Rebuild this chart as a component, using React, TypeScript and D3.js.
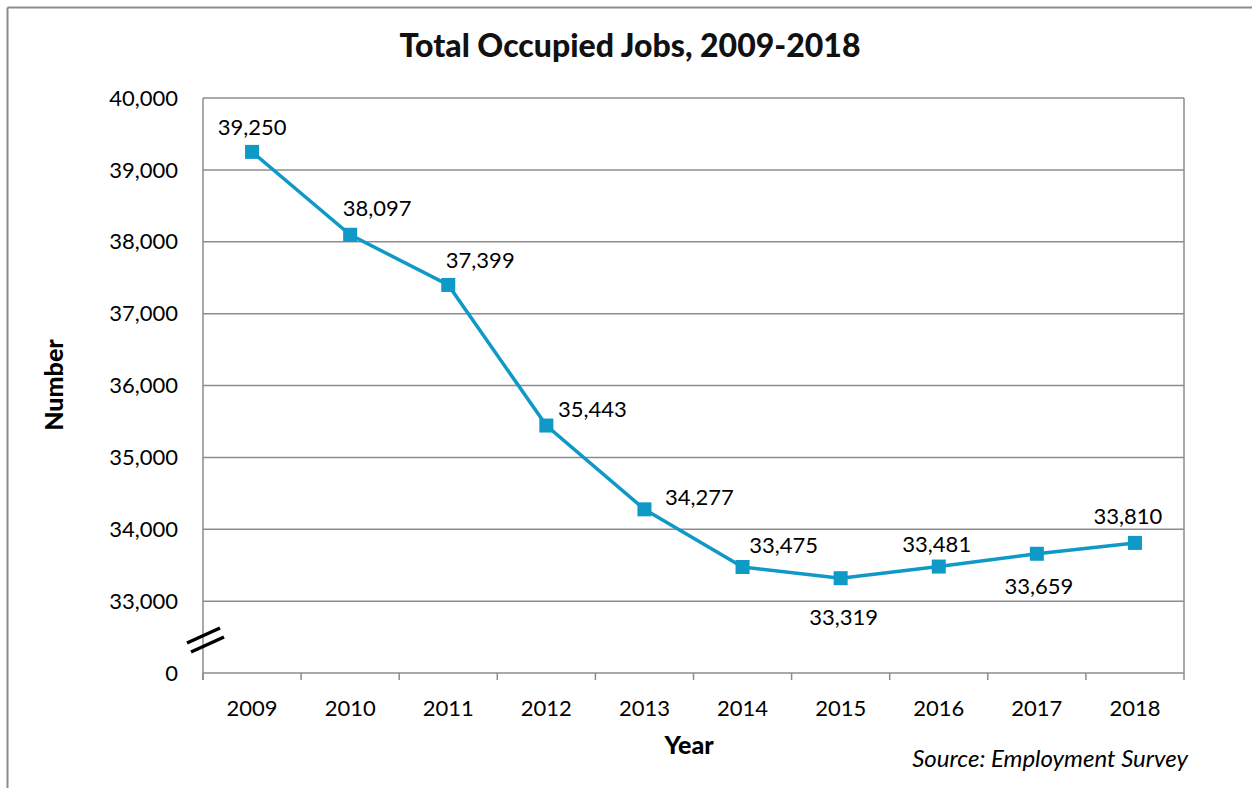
import React from "react";
import * as d3 from "d3";

const years = ["2009", "2010", "2011", "2012", "2013", "2014", "2015", "2016", "2017", "2018"];
const jobs = [39250, 38097, 37399, 35443, 34277, 33475, 33319, 33481, 33659, 33810];
const yTicks = [32000, 33000, 34000, 35000, 36000, 37000, 38000, 39000, 40000];
// label placement offsets (dx, dy) relative to marker
const labelDx = [0, 27, 32, 46, 55, 41, 3, -2, 2, -7];
const labelDy = [-25, -26, -25, -16, -12, -22, 39, -22, 33, -27];

const W = 1252, H = 788;
const M = { left: 203, right: 1184, top: 98, bottom: 673 };
const COLOR = "#0f99c6";
const GRID = "#8c8c8c";
const FONT = "Lato, 'Open Sans', sans-serif";

export default function App() {
  const x = d3.scaleBand<string>().domain(years).range([M.left, M.right]).padding(0);
  const y = d3.scaleLinear().domain([32000, 40000]).range([M.bottom, M.top]);
  const cx = (yr: string) => (x(yr) as number) + x.bandwidth() / 2;
  const line = d3.line<number>().x((_, i) => cx(years[i])).y((v) => y(v));
  const fmt = d3.format(",");
  const tickLabel = (v: number) => (v === 32000 ? "0" : fmt(v));
  const bounds = [...years.map((yr) => x(yr) as number), M.right];

  return (
    <svg width={W} height={H} style={{ position: "absolute", left: 0, top: 0, background: "#fff" }} fontFamily={FONT}>
      <rect x={0} y={0} width={W} height={H} fill="#fff" />
      {/* outer frame */}
      <line x1={7.5} y1={7.5} x2={W} y2={7.5} stroke={GRID} strokeWidth={2} />
      <line x1={7.5} y1={7.5} x2={7.5} y2={H} stroke={GRID} strokeWidth={2} />
      {/* title */}
      <text x={630} y={57} textAnchor="middle" fontSize={32} fontWeight={900} fill="#111">
        Total Occupied Jobs, 2009-2018
      </text>
      {/* gridlines */}
      {yTicks.map((t) => (
        <line key={t} x1={M.left} x2={M.right} y1={y(t)} y2={y(t)} stroke={GRID} strokeWidth={1.5} />
      ))}
      {/* plot border right */}
      <line x1={M.right} x2={M.right} y1={M.top} y2={M.bottom} stroke={GRID} strokeWidth={1.5} />
      {/* left axis */}
      <line x1={M.left} x2={M.left} y1={M.top} y2={M.bottom + 7} stroke={GRID} strokeWidth={1.5} />
      {yTicks.map((t) => (
        <text key={t} x={M.left - 25} y={y(t)} dy="0.35em" textAnchor="end" fontSize={22} fill="#000">
          {tickLabel(t)}
        </text>
      ))}
      {/* x tick marks */}
      {bounds.map((b, i) => (
        <line key={i} x1={b} x2={b} y1={M.bottom} y2={M.bottom + 7} stroke={GRID} strokeWidth={1.5} />
      ))}
      {years.map((yr) => (
        <text key={yr} x={cx(yr)} y={716} textAnchor="middle" fontSize={22} fill="#000">
          {yr}
        </text>
      ))}
      {/* axis break */}
      <line x1={187} y1={643} x2={220} y2={628} stroke="#000" strokeWidth={3.5} />
      <line x1={191} y1={652} x2={224} y2={637} stroke="#000" strokeWidth={3.5} />
      {/* axis titles */}
      <text transform="translate(63,385) rotate(-90)" textAnchor="middle" fontSize={25} fontWeight={900} fill="#000">
        Number
      </text>
      <text x={689} y={754} textAnchor="middle" fontSize={25} fontWeight={900} fill="#000">
        Year
      </text>
      <text x={1188} y={767} textAnchor="end" fontSize={24} fontStyle="italic" fill="#000">
        Source: Employment Survey
      </text>
      {/* series */}
      <path d={line(jobs) || ""} fill="none" stroke={COLOR} strokeWidth={3.5} />
      {jobs.map((v, i) => (
        <rect key={i} x={cx(years[i]) - 7} y={y(v) - 7} width={14} height={14} fill={COLOR} />
      ))}
      {jobs.map((v, i) => (
        <text key={i} x={cx(years[i]) + labelDx[i]} y={y(v) + labelDy[i]} dy="0.35em" textAnchor="middle" fontSize={22} fill="#000">
          {fmt(v)}
        </text>
      ))}
    </svg>
  );
}
